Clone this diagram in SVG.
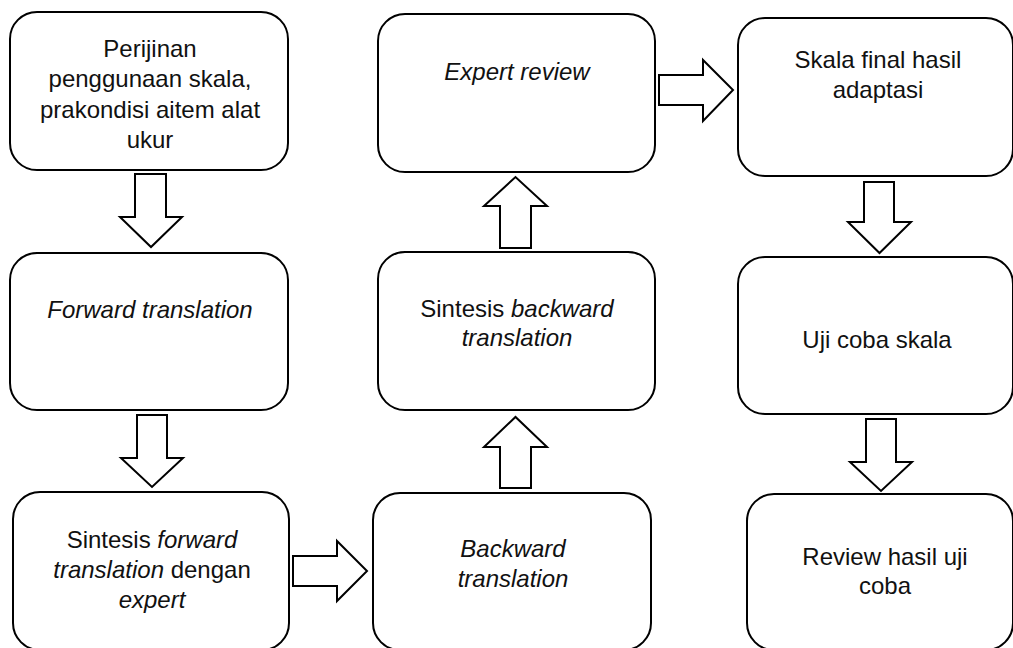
<svg xmlns="http://www.w3.org/2000/svg" width="1013" height="648" viewBox="0 0 1013 648">
<style>
.box{fill:#fff;stroke:#000;stroke-width:2}
.arr{fill:#fff;stroke:#000;stroke-width:2;stroke-linejoin:miter}
text{font-family:"Liberation Sans",Arial,sans-serif;font-size:24px;fill:#111;text-anchor:middle}
.i{font-style:italic}
</style>
<rect width="1013" height="648" fill="#fff"/>
<g id="connectors">
<polygon class="arr" points="135,174 166,174 166,217 182,217 151,247 120,217 135,217"/>
<polygon class="arr" points="137,415 167,415 167,458 183,458 152,487 121,458 137,458"/>
<polygon class="arr" points="293,556 337,556 337,541 367,571 337,601 337,586 293,586"/>
<polygon class="arr" points="500,488 531,488 531,447 547,447 515.5,417 484,447 500,447"/>
<polygon class="arr" points="500,248 531,248 531,206 547,206 515.5,177 484,206 500,206"/>
<polygon class="arr" points="659,75 703,75 703,60 733,90 703,121 703,105 659,105"/>
<polygon class="arr" points="864,182 894,182 894,222 911,222 879.5,253 848,222 864,222"/>
<polygon class="arr" points="866,419 896,419 896,462 912,462 881,491 850,462 866,462"/>
</g>
<g id="n1">
<rect class="box" x="10" y="12" width="278" height="158" rx="27"/>
<text x="150" y="57">Perijinan</text>
<text x="150" y="87">penggunaan skala,</text>
<text x="150" y="118">prakondisi aitem alat</text>
<text x="150" y="148">ukur</text>
</g>
<g id="n2">
<rect class="box" x="10" y="253" width="278" height="157" rx="27"/>
<text class="i" x="150" y="318">Forward translation</text>
</g>
<g id="n3">
<rect class="box" x="13" y="492" width="276" height="158" rx="27"/>
<text x="152" y="548">Sintesis <tspan class="i">forward</tspan></text>
<text x="152" y="578"><tspan class="i">translation</tspan> dengan</text>
<text class="i" x="152" y="608">expert</text>
</g>
<g id="n4">
<rect class="box" x="373" y="493" width="278" height="157" rx="27"/>
<text class="i" x="513" y="557">Backward</text>
<text class="i" x="513" y="587">translation</text>
</g>
<g id="n5">
<rect class="box" x="378" y="252" width="277" height="158" rx="27"/>
<text x="517" y="317">Sintesis <tspan class="i">backward</tspan></text>
<text class="i" x="517" y="346">translation</text>
</g>
<g id="n6">
<rect class="box" x="378" y="14" width="277" height="158" rx="27"/>
<text class="i" x="517" y="80">Expert review</text>
</g>
<g id="n7">
<rect class="box" x="738" y="18" width="275" height="158" rx="27"/>
<text x="878" y="68">Skala final hasil</text>
<text x="878" y="98">adaptasi</text>
</g>
<g id="n8">
<rect class="box" x="738" y="257" width="275" height="157" rx="27"/>
<text x="877" y="348">Uji coba skala</text>
</g>
<g id="n9">
<rect class="box" x="747" y="494" width="266" height="156" rx="27"/>
<text x="885" y="565">Review hasil uji</text>
<text x="885" y="594">coba</text>
</g>
</svg>
